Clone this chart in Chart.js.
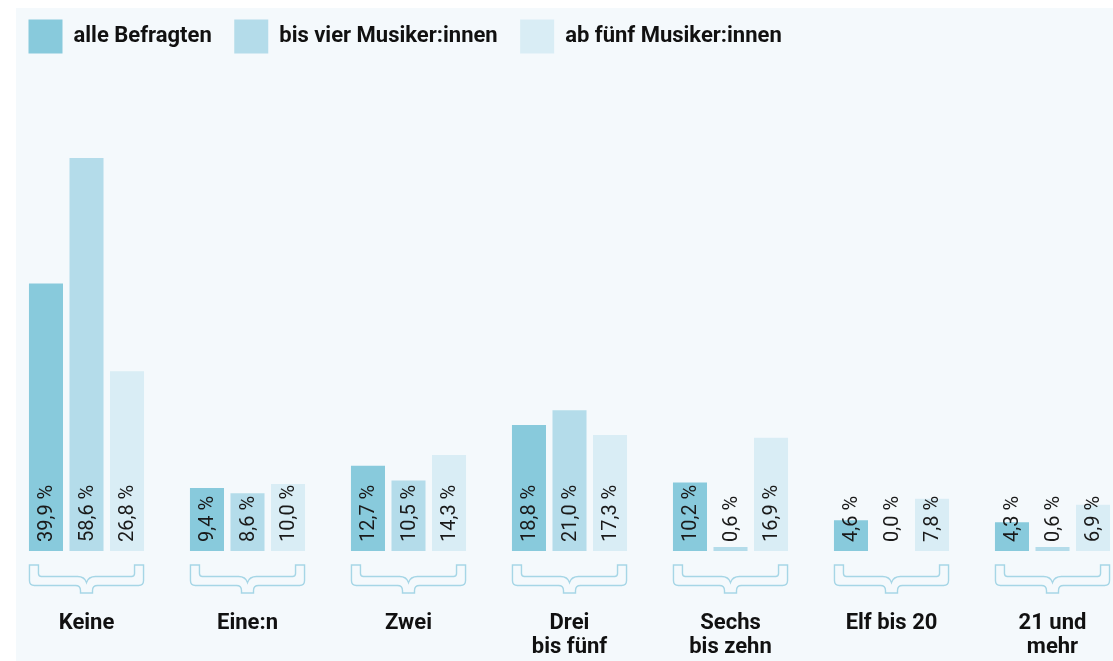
<!DOCTYPE html>
<html lang="de">
<head>
<meta charset="utf-8">
<title>Musiker:innen</title>
<script src="https://cdn.jsdelivr.net/npm/chart.js@4/dist/chart.umd.min.js"></script>
<style>
	html, body { margin: 0; padding: 0; background: #ffffff; overflow: hidden; width: 1113px; height: 661px; }
	.panel { position: absolute; left: 16px; top: 8px; right: 0; bottom: 0; background: #f4f9fc; }
	#musikerChart { position: absolute; left: 0; top: -3px; }
</style>
</head>
<body>
<div class="panel"></div>
<canvas id="musikerChart" width="1140" height="664"></canvas>
<script>
// Anzahl der Musiker:innen
var categories = [['Keine'], ['Eine:n'], ['Zwei'], ['Drei', 'bis fünf'], ['Sechs', 'bis zehn'], ['Elf bis 20'], ['21 und', 'mehr']];
var seriesNames = ['alle Befragten', 'bis vier Musiker:innen', 'ab fünf Musiker:innen'];
var alleBefragten = [39.9, 9.4, 12.7, 18.8, 10.2, 4.6, 4.3];
var bisVier = [58.6, 8.6, 10.5, 21.0, 0.6, 0.0, 0.6];
var abFuenf = [26.8, 10.0, 14.3, 17.3, 16.9, 7.8, 6.9];
var colors = ['#88cadc', '#b4dcea', '#d9edf5'];

function formatPercent(v) {
	return v.toFixed(1).replace('.', ',') + ' %';
}

// rotated value labels inside the bars
var valueLabels = {
	id: 'valueLabels',
	afterDatasetsDraw: function(chart) {
		var ctx = chart.ctx;
		ctx.save();
		ctx.font = '20px Roboto';
		ctx.fillStyle = '#1a1a1a';
		ctx.textAlign = 'left';
		ctx.textBaseline = 'middle';
		chart.data.datasets.forEach(function(ds, i) {
			var meta = chart.getDatasetMeta(i);
			meta.data.forEach(function(bar, j) {
				ctx.save();
				ctx.translate(bar.x, bar.base - 9);
				ctx.rotate(-Math.PI / 2);
				ctx.fillText(formatPercent(ds.data[j]), 0, 1);
				ctx.restore();
			});
		});
		ctx.restore();
	}
};

// curly braces under each group
var groupBraces = {
	id: 'groupBraces',
	afterDatasetsDraw: function(chart) {
		var ctx = chart.ctx;
		var first = chart.getDatasetMeta(0).data;
		var last = chart.getDatasetMeta(chart.data.datasets.length - 1).data;
		ctx.save();
		ctx.strokeStyle = '#a6d6e6';
		ctx.lineWidth = 1.4;
		first.forEach(function(bar, j) {
			var L = bar.x - bar.width / 2 + 0.5;
			var R = last[j].x + last[j].width / 2 - 0.5;
			var C = (L + R) / 2;
			var B = bar.base;
			var top = B + 14, innerY = B + 25.5, outerY = B + 34.5, stemY = B + 42, cuspY = B + 31.5;
			ctx.beginPath();
			ctx.moveTo(L, top);
			ctx.lineTo(L, outerY - 5);
			ctx.quadraticCurveTo(L, outerY, L + 5, outerY);
			ctx.lineTo(C - 11, outerY);
			ctx.quadraticCurveTo(C - 6, outerY, C - 6, outerY + 5);
			ctx.lineTo(C - 6, stemY);
			ctx.lineTo(C + 6, stemY);
			ctx.lineTo(C + 6, outerY + 5);
			ctx.quadraticCurveTo(C + 6, outerY, C + 11, outerY);
			ctx.lineTo(R - 5, outerY);
			ctx.quadraticCurveTo(R, outerY, R, outerY - 5);
			ctx.lineTo(R, top);
			ctx.lineTo(R - 9, top);
			ctx.lineTo(R - 9, innerY - 3);
			ctx.quadraticCurveTo(R - 9, innerY, R - 12, innerY);
			ctx.lineTo(C + 9, innerY);
			ctx.quadraticCurveTo(C + 2, innerY, C, cuspY);
			ctx.quadraticCurveTo(C - 2, innerY, C - 9, innerY);
			ctx.lineTo(L + 12, innerY);
			ctx.quadraticCurveTo(L + 9, innerY, L + 9, innerY - 3);
			ctx.lineTo(L + 9, top);
			ctx.closePath();
			ctx.stroke();
		});
		ctx.restore();
	}
};

var musikerChart = new Chart(document.getElementById('musikerChart'), {
	type: 'bar',
	data: {
		labels: categories,
		datasets: [
			{ label: seriesNames[0], data: alleBefragten, backgroundColor: colors[0], borderWidth: 0 },
			{ label: seriesNames[1], data: bisVier, backgroundColor: colors[1], borderWidth: 0 },
			{ label: seriesNames[2], data: abFuenf, backgroundColor: colors[2], borderWidth: 0 }
		]
	},
	plugins: [valueLabels, groupBraces],
	options: {
		responsive: false,
		animation: false,
		categoryPercentage: 0.755,
		barPercentage: 0.84,
		layout: {
			padding: { left: 6, right: 7, top: 0, bottom: 0 }
		},
		plugins: {
			tooltip: { enabled: false },
			legend: {
				position: 'top',
				align: 'start',
				labels: {
					boxWidth: 34,
					boxHeight: 34,
					padding: 22.5,
					color: '#111111',
					font: { family: 'Roboto', size: 22, weight: 'bold' }
				}
			}
		},
		scales: {
			y: {
				display: false,
				min: 0,
				max: 72.7
			},
			x: {
				grid: { display: false },
				border: { display: false },
				afterFit: function(scale) {
					scale.height = 110;
				},
				ticks: {
					padding: 53,
					color: '#111111',
					maxRotation: 0,
					autoSkip: false,
					font: { family: 'Roboto', size: 22, weight: 'bold', lineHeight: 1.08 }
				}
			}
		}
	}
});
</script>
</body>
</html>
